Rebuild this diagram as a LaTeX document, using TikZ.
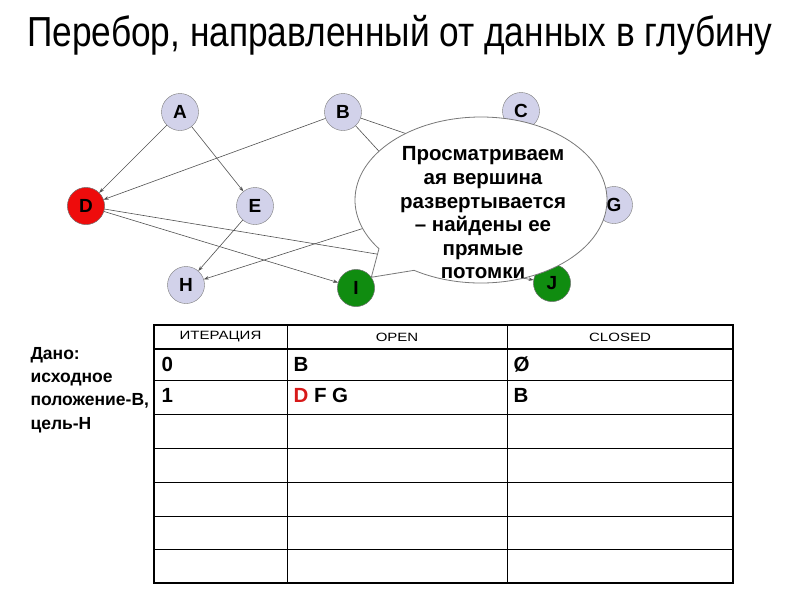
\documentclass[tikz,border=0pt]{standalone}
\usepackage{fontspec}
\setmainfont{Liberation Sans}
\newfontfamily\titlefont[FakeStretch=0.84]{Liberation Sans}
\newfontfamily\headfont[FakeStretch=1.25]{Liberation Sans}
\usepackage{tikz}
\usetikzlibrary{arrows.meta,positioning,calc,shapes.callouts}
\definecolor{nodefill}{RGB}{210,210,234}
\definecolor{noderim}{RGB}{120,120,120}
\definecolor{visited}{RGB}{238,12,12}
\definecolor{goal}{RGB}{16,140,16}
\definecolor{edgegray}{RGB}{80,80,80}
\definecolor{openred}{RGB}{215,25,25}

\begin{document}
\begin{tikzpicture}[x=1pt, y=-1pt,
  vert/.style={circle, draw=noderim, fill=nodefill, minimum size=37pt, inner sep=0pt,
    font=\fontsize{19}{19}\selectfont\bfseries},
  edge/.style={draw=edgegray, line width=0.6pt, -{Stealth[length=5pt,width=3.5pt]}},
  grid/.style={line width=0.8pt},
  frame/.style={line width=1.8pt},
  head/.style={font=\headfont\fontsize{12}{12}\selectfont},
  cell/.style={anchor=west, font=\fontsize{20.5}{20.5}\selectfont\bfseries}]
  \useasboundingbox (0,0) rectangle (800,600);
  % title
  \node[font=\titlefont\fontsize{42}{50}\selectfont] (title) at (400,35)
    {Перебор, направленный от данных в глубину};
  % graph
  \node[vert] (A) at (180,112) {A};
  \node[vert] (B) at (343,112) {B};
  \node[vert] (C) at (521,111) {C};
  \node[vert] (D) at (86,206) {D};
  \node[vert] (E) at (255,206) {E};
  \node[vert] (G) at (614,205) {G};
  \node[vert] (H) at (186,285) {H};
  \node[vert] (I) at (356,288) {I};
  \node[vert] (J) at (552,283) {J};
  \node[vert, fill=visited] at (D) {D};
  \node[vert, fill=goal] at (I) {I};
  \node[vert, fill=goal] at (J) {J};
  \coordinate (F) at (430,207);
  \draw[edge] (A) -- (D);
  \draw[edge] (A) -- (E);
  \draw[edge] (B) -- (D);
  \draw[edge] (B) -- (F);
  \draw[edge] (B) -- (G);
  \draw[edge] (E) -- (H);
  \draw[edge] (F) -- (H);
  \draw[edge] (D) -- (I);
  \draw[edge] (D) -- (J);
  % callout over the expanded vertex
  \node[ellipse callout, draw=noderim, line width=0.8pt, fill=white,
    minimum width=252pt, minimum height=166pt, callout pointer arc=22,
    callout absolute pointer={(I.35)}] (bubble) at (481,200) {};
  \node[align=center, font=\fontsize{20.5}{23.6}\selectfont\bfseries] (bubbletext)
    at (483,213) {Просматриваем\\ая вершина\\развертывается\\– найдены ее\\прямые\\потомки};
  % given
  \node[anchor=north west, align=left, font=\fontsize{17.5}{23.2}\selectfont\bfseries] (given)
    at (27,344) {Дано:\\исходное\\положение-В,\\цель-Н};
  % table
  \foreach \yy in {380,414,448,482,516,549}
    \draw[grid] (154,\yy) -- (733,\yy);
  \foreach \xx in {287,507}
    \draw[grid] (\xx,325) -- (\xx,583);
  \draw[frame] (154,349) -- (733,349);
  \draw[frame] (154,325) rectangle (733,583);
  \node[head] (h1) at (220.5,337) {ИТЕРАЦИЯ};
  \node[head] (h2) at (397,337) {OPEN};
  \node[head] (h3) at (620,337) {CLOSED};
  \node[cell] (r0a) at (158,364) {0};
  \node[cell] (r0b) at (290,364) {B};
  \node[cell] (r0c) at (510,364) {Ø};
  \node[cell] (r1a) at (158,395) {1};
  \node[cell] (r1b) at (290,395) {\textcolor{openred}{D} F G};
  \node[cell] (r1c) at (510,395) {B};
\end{tikzpicture}
\end{document}
